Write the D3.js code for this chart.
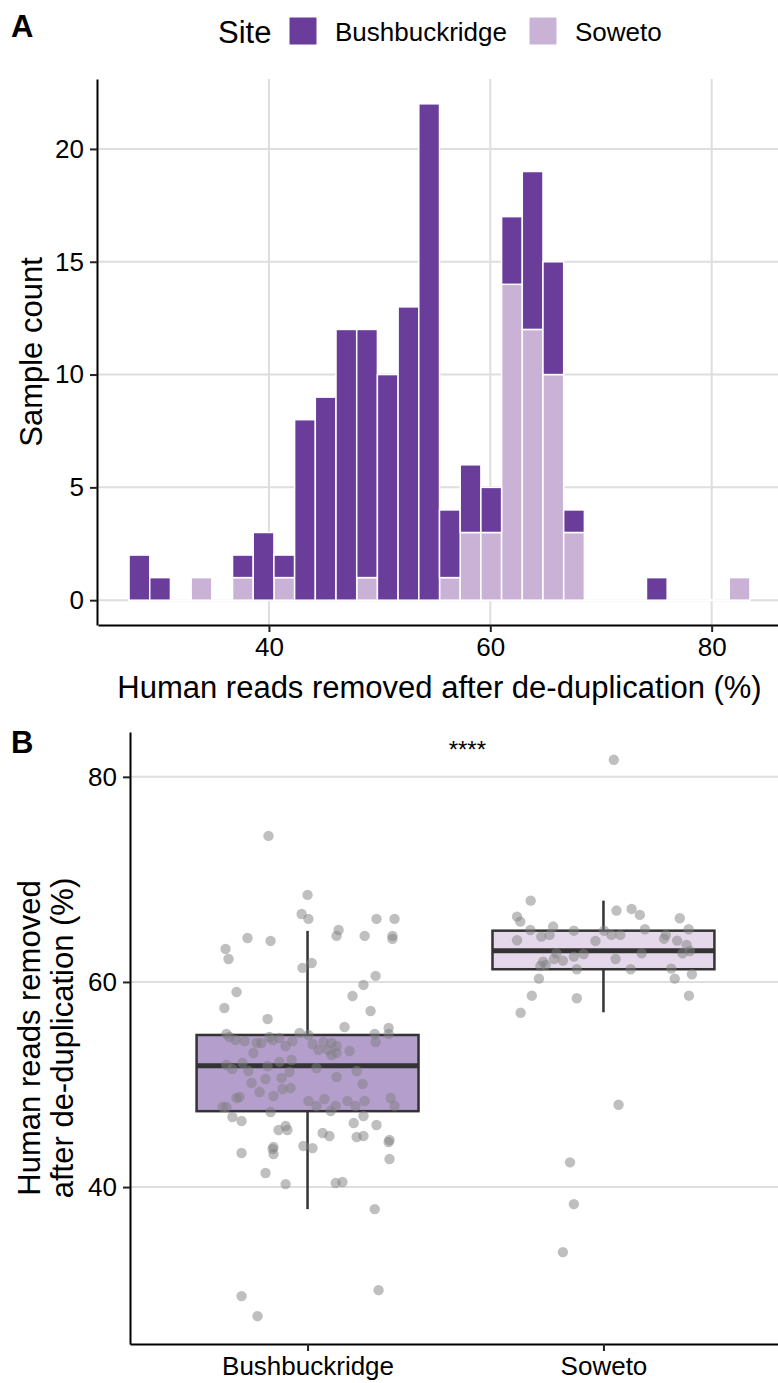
<!DOCTYPE html>
<html>
<head>
<meta charset="utf-8">
<script src="https://cdn.jsdelivr.net/npm/d3@7"></script>
<style>
body { margin: 0; background: #fff; }
svg text { font-family: "Liberation Sans", Arial, sans-serif; }
</style>
</head>
<body>
<div id="d3"></div>
<script>
var sites = ["Bushbuckridge", "Soweto"];
var siteColors = ["#6a3d9a", "#cab2d6"];

// histogram (30 bins)
var binStart = 27.36, binWidth = 1.87;
var bushCounts   = [2,1,0,0,0,1,3,1,8,9,12,11,10,13,22,3,3,2,3,7,5,1,0,0,0,1,0,0,0,0];
var sowetoCounts = [0,0,0,1,0,1,0,1,0,0,0,1,0,0,0,1,3,3,14,12,10,3,0,0,0,0,0,0,0,1];
var countTicks = [0, 5, 10, 15, 20];
var pctTicks = [40, 60, 80];

// boxplot points, value (%) and horizontal jitter (category units)
var bushValues = [74.24,68.49,66.63,66.15,66.15,66.15,65.07,64.49,64.49,64.49,
  64.20,64.29,64.00,63.22,62.24,61.85,61.37,60.59,59.71,59.02,
  58.63,57.46,57.17,56.39,55.61,55.51,55.02,54.93,54.93,54.93,
  54.83,54.63,54.34,54.24,54.63,54.34,54.54,53.76,54.24,54.05,
  54.05,53.07,53.95,53.37,54.15,54.05,53.76,53.37,52.88,53.07,
  53.27,54.15,51.90,51.51,52.10,51.32,51.80,52.20,52.39,51.22,
  50.63,50.54,50.15,49.27,48.88,49.56,49.66,48.68,48.78,47.80,
  47.80,51.61,50.73,51.32,50.05,48.39,47.90,48.59,47.90,48.39,
  47.90,48.39,48.68,47.90,47.32,46.83,46.44,47.41,46.93,45.56,
  45.95,45.56,45.27,44.98,46.24,46.05,44.88,44.98,44.39,44.59,
  43.32,43.71,43.90,43.22,44.00,43.80,42.73,41.37,40.29,40.39,
  40.49,37.85,29.37,29.95,27.41];
var bushJitter = [-0.132,0,-0.020,0.003,0.233,0.294,0.105,0.098,0.193,0.287,
  0.287,-0.203,-0.125,-0.277,-0.267,0.014,-0.017,0.230,0.189,-0.240,
  0.152,-0.281,0.213,-0.135,0.125,0.274,-0.027,-0.274,0.227,0.274,
  0.003,-0.264,-0.243,-0.213,-0.129,-0.118,-0.095,-0.074,-0.051,-0.172,
  -0.156,-0.183,0.017,0.037,0.054,0.081,0.098,0.068,0.081,0.098,
  0.142,0.230,-0.274,-0.254,-0.220,-0.200,-0.135,-0.095,-0.054,-0.061,
  -0.088,-0.142,-0.189,-0.162,-0.115,-0.085,-0.057,-0.240,-0.230,-0.287,
  -0.274,0.030,0.098,0.166,0.186,0.003,0.030,0.057,0.095,0.135,
  0.162,0.193,0.281,0.294,-0.125,-0.254,-0.223,0.078,0.189,-0.098,
  -0.074,-0.068,0.051,0.074,0.156,0.233,0.166,0.189,0.274,0.277,
  -0.223,-0.118,-0.115,-0.115,-0.014,0.017,0.277,-0.142,-0.074,0.095,
  0.118,0.227,-0.223,0.240,-0.169];
var sowetoValues = [81.66,67.93,66.37,65.88,66.96,67.12,66.54,66.21,65.07,65.40,
  65.00,65.00,65.14,65.14,64.07,64.42,64.59,64.00,64.59,64.59,
  64.59,64.22,64.03,63.61,62.80,63.02,62.80,62.24,62.08,61.98,
  61.56,61.66,62.47,62.73,61.24,62.24,62.80,61.24,61.30,60.32,
  60.75,60.32,58.66,58.41,58.66,57.00,48.03,42.41,38.34,33.66];
var sowetoJitter = [0.035,-0.246,-0.292,-0.281,0.044,0.095,0.123,0.258,-0.247,-0.170,
  -0.100,0.002,0.140,0.288,-0.292,-0.210,-0.182,-0.027,0.027,0.057,
  0.211,0.205,0.249,0.281,0.267,0.292,-0.159,-0.167,-0.137,-0.204,
  -0.213,-0.195,-0.100,-0.067,-0.090,0.041,0.129,0.092,0.229,0.241,
  0.299,-0.218,-0.242,-0.090,0.289,-0.280,0.051,-0.113,-0.100,-0.137];

// box stats: lower whisker, q1, median, q3, upper whisker
var bushBox   = [37.85, 47.40, 51.83, 54.83, 64.98];
var sowetoBox = [57.04, 61.24, 63.05, 65.00, 67.93];
var boxTicks = [40, 60, 80];
var signifLabel = "****";

var width = 778, height = 1383;
var svg = d3.select("#d3").append("svg")
    .attr("width", width).attr("height", height);

var gridColor = "#dedede";
var axisFont = 26, titleFont = 31;

function styleAxis(g){
	g.select(".domain").attr("stroke", "#000").attr("stroke-width", 2);
	g.selectAll(".tick line").attr("stroke", "#222").attr("stroke-width", 2);
	g.selectAll(".tick text").attr("fill", "#000").style("font-size", axisFont + "px");
}

// ---------- panel A ----------
var binEnd = binStart + binWidth * bushCounts.length;
var pad = (binEnd - binStart) * 0.05;
var xA = d3.scaleLinear().domain([binStart - pad, binEnd + pad]).range([98, 781]);
var maxCount = d3.max(bushCounts.map(function(d, i){ return d + sowetoCounts[i]; }));
var yA = d3.scaleLinear().domain([-maxCount * 0.05, maxCount * 1.05]).range([625, 79]);

var gA = svg.append("g");
gA.selectAll(".hgrid").data(countTicks).enter().append("line")
	.attr("x1", xA.range()[0]).attr("x2", xA.range()[1])
	.attr("y1", yA).attr("y2", yA)
	.attr("stroke", gridColor).attr("stroke-width", 2);
gA.selectAll(".vgrid").data(pctTicks).enter().append("line")
	.attr("x1", xA).attr("x2", xA)
	.attr("y1", yA.range()[0]).attr("y2", yA.range()[1])
	.attr("stroke", gridColor).attr("stroke-width", 2);

var rows = bushCounts.map(function(d, i){
	return {x0: binStart + i * binWidth, Bushbuckridge: d, Soweto: sowetoCounts[i]};
});
var stack = d3.stack().keys(["Soweto", "Bushbuckridge"]);
var series = stack(rows);

// empty bins still draw a white outline on the baseline
gA.append("line")
	.attr("x1", xA(binStart)).attr("x2", xA(binEnd))
	.attr("y1", yA(0)).attr("y2", yA(0))
	.attr("stroke", "#fff").attr("stroke-width", 2);

series.forEach(function(s){
	var col = siteColors[sites.indexOf(s.key)];
	gA.selectAll(".bar-" + s.key).data(s.filter(function(d){ return d[1] > d[0]; }))
		.enter().append("rect")
		.attr("x", function(d){ return xA(d.data.x0); })
		.attr("width", xA(binStart + binWidth) - xA(binStart))
		.attr("y", function(d){ return yA(d[1]); })
		.attr("height", function(d){ return yA(d[0]) - yA(d[1]); })
		.attr("fill", col)
		.attr("stroke", "#fff").attr("stroke-width", 1.5);
});

gA.append("g").attr("transform", "translate(97,0)")
	.call(d3.axisLeft(yA).tickValues(countTicks).tickSize(7).tickPadding(6).tickSizeOuter(0))
	.call(styleAxis);
gA.append("g").attr("transform", "translate(0,625)")
	.call(d3.axisBottom(xA).tickValues(pctTicks).tickSize(7).tickPadding(6).tickSizeOuter(0))
	.call(styleAxis);

gA.append("text").attr("x", (xA.range()[0] + xA.range()[1]) / 2).attr("y", 698)
	.attr("text-anchor", "middle").style("font-size", titleFont + "px")
	.text("Human reads removed after de-duplication (%)");
gA.append("text").attr("transform", "translate(42," + (yA.range()[0] + yA.range()[1]) / 2 + ") rotate(-90)")
	.attr("text-anchor", "middle").style("font-size", titleFont + "px")
	.text("Sample count");

// legend
var legend = svg.append("g");
legend.append("text").attr("x", 218).attr("y", 43).style("font-size", titleFont + "px").text("Site");
var legX = [289, 529];
sites.forEach(function(s, i){
	legend.append("rect").attr("x", legX[i]).attr("y", 17).attr("width", 28).attr("height", 28)
		.attr("fill", siteColors[i]).attr("stroke", "#fff").attr("stroke-width", 1);
	legend.append("text").attr("x", legX[i] + 46).attr("y", 41)
		.style("font-size", axisFont + "px").text(s);
});

svg.append("text").attr("x", 11).attr("y", 37).style("font-size", "31px")
	.style("font-weight", "bold").text("A");

// ---------- panel B ----------
var allVals = bushValues.concat(sowetoValues);
var ext = d3.extent(allVals);
var padB = (ext[1] - ext[0]) * 0.05;
var yB = d3.scaleLinear().domain([ext[0] - padB, ext[1] + padB]).range([1344, 732]);
var xB = d3.scaleLinear().domain([0.4, 2.6]).range([130, 781]);
var boxHalf = 0.375;

var gB = svg.append("g");
gB.selectAll(".hgrid").data(boxTicks).enter().append("line")
	.attr("x1", xB.range()[0]).attr("x2", xB.range()[1])
	.attr("y1", yB).attr("y2", yB)
	.attr("stroke", gridColor).attr("stroke-width", 2);

var boxes = [
	{pos: 1, stats: bushBox, color: siteColors[0]},
	{pos: 2, stats: sowetoBox, color: siteColors[1]}
];
boxes.forEach(function(b){
	var s = b.stats;
	gB.append("line").attr("x1", xB(b.pos)).attr("x2", xB(b.pos))
		.attr("y1", yB(s[0])).attr("y2", yB(s[1]))
		.attr("stroke", "#333").attr("stroke-width", 2.5);
	gB.append("line").attr("x1", xB(b.pos)).attr("x2", xB(b.pos))
		.attr("y1", yB(s[3])).attr("y2", yB(s[4]))
		.attr("stroke", "#333").attr("stroke-width", 2.5);
	gB.append("rect").attr("x", xB(b.pos - boxHalf)).attr("width", xB(b.pos + boxHalf) - xB(b.pos - boxHalf))
		.attr("y", yB(s[3])).attr("height", yB(s[1]) - yB(s[3]))
		.attr("fill", b.color).attr("fill-opacity", 0.5)
		.attr("stroke", "#333").attr("stroke-width", 2.5);
	gB.append("line").attr("x1", xB(b.pos - boxHalf)).attr("x2", xB(b.pos + boxHalf))
		.attr("y1", yB(s[2])).attr("y2", yB(s[2]))
		.attr("stroke", "#333").attr("stroke-width", 5);
});

var pts = [];
bushValues.forEach(function(v, i){ pts.push({x: 1 + bushJitter[i], y: v}); });
sowetoValues.forEach(function(v, i){ pts.push({x: 2 + sowetoJitter[i], y: v}); });
gB.selectAll(".pt").data(pts).enter().append("circle")
	.attr("cx", function(d){ return xB(d.x); })
	.attr("cy", function(d){ return yB(d.y); })
	.attr("r", 5.2)
	.attr("fill", "#808080").attr("fill-opacity", 0.5);

gB.append("g").attr("transform", "translate(130,0)")
	.call(d3.axisLeft(yB).tickValues(boxTicks).tickSize(7).tickPadding(6).tickSizeOuter(0))
	.call(styleAxis);
gB.append("g").attr("transform", "translate(0,1344)")
	.call(d3.axisBottom(xB).tickValues([1, 2]).tickFormat(function(d){ return sites[d - 1]; })
		.tickSize(7).tickPadding(6).tickSizeOuter(0))
	.call(styleAxis);

var yMidB = (yB.range()[0] + yB.range()[1]) / 2;
gB.append("text").attr("transform", "translate(40," + yMidB + ") rotate(-90)")
	.attr("text-anchor", "middle").style("font-size", titleFont + "px")
	.text("Human reads removed");
gB.append("text").attr("transform", "translate(73," + yMidB + ") rotate(-90)")
	.attr("text-anchor", "middle").style("font-size", titleFont + "px")
	.text("after de-duplication (%)");

gB.append("text").attr("x", xB(1.54)).attr("y", 758).attr("text-anchor", "middle")
	.style("font-size", "24px").text(signifLabel);

svg.append("text").attr("x", 11).attr("y", 753).style("font-size", "31px")
	.style("font-weight", "bold").text("B");
</script>
</body>
</html>
